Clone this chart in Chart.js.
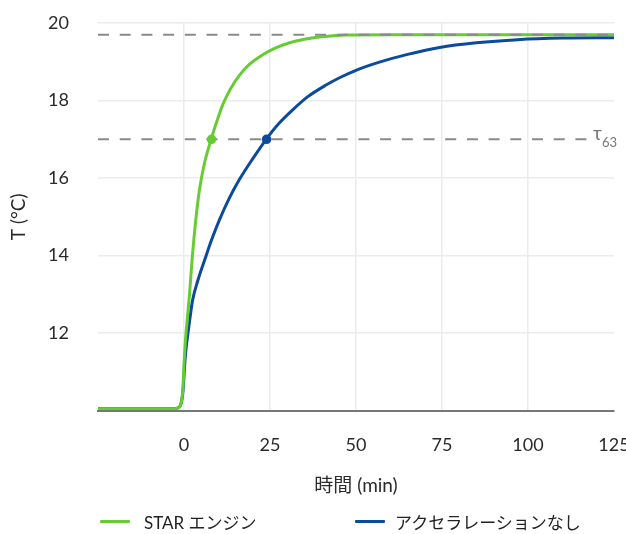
<!DOCTYPE html>
<html>
<head>
<meta charset="utf-8">
<script src="https://cdn.jsdelivr.net/npm/chart.js@4/dist/chart.umd.min.js"></script>
<style>
  html, body { margin: 0; padding: 0; background: #fff; }
  #wrap { position: relative; width: 626px; height: 534px; }
  #legend { position: absolute; left: 0; top: 508px; width: 626px; height: 26px;
    font-family: Lato, 'Noto Sans CJK JP', sans-serif; font-size: 17px; color: #222; }
  .item { position: absolute; top: 0; display: flex; align-items: center; height: 26px; white-space: nowrap; }
  .swatch { width: 30px; height: 3px; margin-right: 14px; border-radius: 1px; }
</style>
</head>
<body>
<div id="wrap">
  <canvas id="c" width="626" height="534"></canvas>
  <div id="legend"></div>
</div>
<script>
// ---- data ----
const seriesNames = ['STAR エンジン', 'アクセラレーションなし'];
const starTime = [-25, -3, -1.5, -0.8, -0.3, 0, 0.5, 1, 1.6, 2.4, 3.4, 4.5, 6, 7.9, 9.5, 11.3, 13.5, 16.1, 19, 22.9, 26.5, 30.7, 35, 39.4, 47, 60, 80, 100, 125];
const starTemp = [10.05, 10.05, 10.08, 10.2, 10.6, 11.2, 11.9, 12.4, 13.0, 13.95, 14.9, 15.7, 16.4, 17.0, 17.45, 17.9, 18.3, 18.65, 18.93, 19.18, 19.35, 19.49, 19.58, 19.64, 19.69, 19.7, 19.7, 19.7, 19.7];
const noAccTime = [-25, -3, -1.5, -0.8, -0.3, 0, 0.3, 0.6, 1, 1.6, 2.5, 4, 6.25, 8, 10.3, 13, 16.1, 20, 23.9, 27.5, 31.6, 36, 41.3, 45.5, 50, 56.8, 65, 74.3, 85, 97, 110, 125];
const noAccTemp = [10.05, 10.05, 10.08, 10.2, 10.5, 10.9, 11.3, 11.6, 11.9, 12.3, 12.85, 13.35, 13.95, 14.4, 14.92, 15.45, 15.96, 16.5, 17.0, 17.4, 17.76, 18.1, 18.4, 18.6, 18.78, 18.99, 19.19, 19.37, 19.49, 19.57, 19.61, 19.62];
const tauTimes = [8, 24];          // time to reach 63% (STAR, no acceleration)
const tauTemp = 17;                // 63% temperature level
const finalTemp = 19.7;            // steady-state temperature
const xTicks = [-25, 0, 25, 50, 75, 100, 125];
const yTicks = [10, 12, 14, 16, 18, 20];
const xTitle = '時間 (min)';
const yTitle = 'T (°C)';
const tauLabel = 'τ';
const tauSub = '63';

// ---- styles ----
const GREEN = '#66cc33';
const BLUE = '#0b4a9c';
const DASH = '#8a8a8a';
const TEXT = '#2a2a2a';
const FONT = "Lato, 'Noto Sans CJK JP', sans-serif";

const toXY = (xs, ys) => xs.map((x, i) => ({ x: x, y: ys[i] }));
const xMin = xTicks[0], xMax = xTicks[xTicks.length - 1];

const tauLabelPlugin = {
  id: 'tauLabel',
  afterDraw(chart) {
    const { ctx, scales } = chart;
    const y = scales.y.getPixelForValue(tauTemp);
    const xr = chart.chartArea.right;
    ctx.save();
    ctx.fillStyle = '#fff';
    ctx.fillRect(xr - 22, y - 12, 34, 24);
    ctx.fillStyle = '#777';
    ctx.textBaseline = 'alphabetic';
    ctx.font = "19px " + FONT;
    ctx.fillText(tauLabel, xr - 21, y + 1);
    ctx.font = "13px " + FONT;
    ctx.fillText(tauSub, xr - 12, y + 8);
    ctx.restore();
  }
};

const chart = new Chart(document.getElementById('c'), {
  type: 'line',
  data: {
    datasets: [
      { label: 'tau', data: toXY(tauTimes, [tauTemp, tauTemp]), showLine: false,
        pointRadius: 4.8, pointHoverRadius: 4.8, pointBackgroundColor: [GREEN, BLUE], pointBorderWidth: 0, order: 0 },
      { label: 'final', data: toXY([xMin, xMax], [finalTemp, finalTemp]), borderColor: DASH, borderWidth: 2,
        borderDash: [11, 10.7], pointRadius: 0, order: 1 },
      { label: 'tau line', data: toXY([xMin, xMax], [tauTemp, tauTemp]), borderColor: DASH, borderWidth: 2,
        borderDash: [11, 10.7], pointRadius: 0, order: 1 },
      { label: seriesNames[0], data: toXY(starTime, starTemp), borderColor: GREEN, backgroundColor: GREEN,
        borderWidth: 3, pointRadius: 0, cubicInterpolationMode: 'monotone', order: 2 },
      { label: seriesNames[1], data: toXY(noAccTime, noAccTemp), borderColor: BLUE, backgroundColor: BLUE,
        borderWidth: 3, pointRadius: 0, cubicInterpolationMode: 'monotone', order: 3 }
    ]
  },
  options: {
    responsive: false,
    animation: false,
    layout: { padding: { left: 0, right: 12, top: 23, bottom: 37 } },
    plugins: { legend: { display: false }, tooltip: { enabled: false } },
    scales: {
      x: {
        type: 'linear', min: xMin, max: xMax,
        afterBuildTicks: (s) => { s.ticks = xTicks.map(v => ({ value: v })); },
        afterFit: (s) => { s.paddingRight = 0; s.paddingLeft = 0; },
        ticks: { padding: 24, color: TEXT, font: { family: FONT, size: 18 },
          callback: (v) => v === xMin ? '' : v, maxRotation: 0, autoSkip: false },
        grid: { drawTicks: false, lineWidth: 1.5,
          color: (c) => (c.tick && (c.tick.value === xMin || c.tick.value === xMax)) ? 'rgba(0,0,0,0)' : '#ececec' },
        border: { display: true, color: '#777', width: 2 },
        title: { display: true, text: xTitle, color: TEXT, font: { family: FONT, size: 19 }, padding: { top: -6, bottom: 0 } }
      },
      y: {
        type: 'linear', min: yTicks[0], max: yTicks[yTicks.length - 1],
        afterBuildTicks: (s) => { s.ticks = yTicks.map(v => ({ value: v })); },
        afterFit: (s) => { s.width = 98; s.paddingTop = 0; s.paddingBottom = 0; },
        ticks: { padding: 29, color: TEXT, font: { family: FONT, size: 18 },
          callback: (v) => v === yTicks[0] ? '' : v },
        grid: { drawTicks: false, lineWidth: 1.5,
          color: (c) => (c.tick && c.tick.value === yTicks[0]) ? 'rgba(0,0,0,0)' : '#ececec' },
        border: { display: false },
        title: { display: true, text: yTitle, color: TEXT, font: { family: FONT, size: 19 }, padding: { top: 7, bottom: 0 } }
      }
    }
  },
  plugins: [tauLabelPlugin]
});

// HTML legend built from the two series datasets
const legendPos = [100, 355];
const legend = document.getElementById('legend');
[3, 4].forEach((di, k) => {
  const ds = chart.data.datasets[di];
  const item = document.createElement('div');
  item.className = 'item';
  item.style.left = legendPos[k] + 'px';
  const sw = document.createElement('div');
  sw.className = 'swatch';
  sw.style.background = ds.borderColor;
  if (k === 1) sw.style.marginRight = '10px';
  const tx = document.createElement('span');
  tx.textContent = ds.label;
  item.appendChild(sw); item.appendChild(tx);
  legend.appendChild(item);
});
</script>
</body>
</html>
